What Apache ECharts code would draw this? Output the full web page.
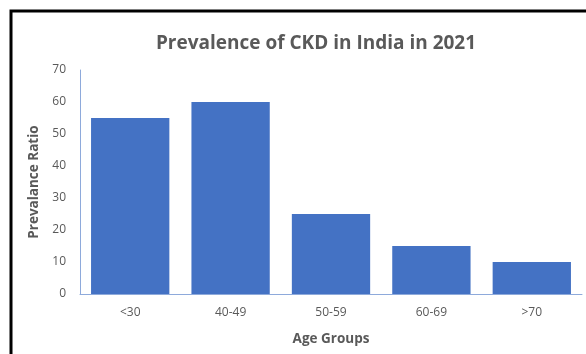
<!DOCTYPE html>
<html>
<head>
<meta charset="utf-8">
<script src="https://cdn.jsdelivr.net/npm/echarts@6/dist/echarts.min.js"></script>
<style>
  html, body { margin: 0; padding: 0; background: #fff; }
  #chart { width: 586px; height: 354px; }
</style>
</head>
<body>
<div id="chart"></div>
<script>
// Prevalence of chronic kidney disease by age group
const ageGroups = ['<30', '40-49', '50-59', '60-69', '>70'];
const prevalence = [55, 60, 25, 15, 10];
const yTicks = [0, 10, 20, 30, 40, 50, 60, 70];

const chart = echarts.init(document.getElementById('chart'));
const textGray = '#595959';
const font = 'Open Sans';

chart.setOption({
  animation: false,
  title: {
    text: 'Prevalence of CKD in India in 2021',
    left: 311,
    textAlign: 'center',
    top: 29,
    textStyle: { fontFamily: font, fontSize: 19, fontWeight: 'bold', color: textGray }
  },
  graphic: [{
    type: 'rect',
    shape: { x: 11, y: 11, width: 700, height: 500 },
    style: { fill: 'none', stroke: '#000', lineWidth: 3 },
    silent: true
  }],
  grid: { left: 80, right: 4, top: 70, bottom: 60 },
  xAxis: {
    type: 'category',
    data: ageGroups,
    name: 'Age Groups',
    nameLocation: 'middle',
    nameGap: 38,
    nameTextStyle: { fontFamily: font, fontSize: 13.5, fontWeight: 'bold', color: textGray },
    axisLine: { lineStyle: { color: '#8eaadb', width: 1 } },
    axisTick: { show: false },
    axisLabel: { fontFamily: font, fontSize: 12, color: textGray, margin: 13 }
  },
  yAxis: {
    type: 'value',
    min: yTicks[0],
    max: yTicks[yTicks.length - 1],
    interval: yTicks[1] - yTicks[0],
    name: 'Prevalance Ratio',
    nameLocation: 'middle',
    nameGap: 36,
    nameTextStyle: { fontFamily: font, fontSize: 13.5, fontWeight: 'bold', color: textGray },
    axisLine: { show: true, lineStyle: { color: '#8eaadb', width: 1 } },
    axisTick: { show: false },
    splitLine: { show: false },
    axisLabel: { fontFamily: font, fontSize: 12, color: textGray, margin: 14 }
  },
  series: [{
    type: 'bar',
    data: prevalence,
    barCategoryGap: '22%',
    itemStyle: { color: '#4472c4' }
  }]
});
</script>
</body>
</html>
